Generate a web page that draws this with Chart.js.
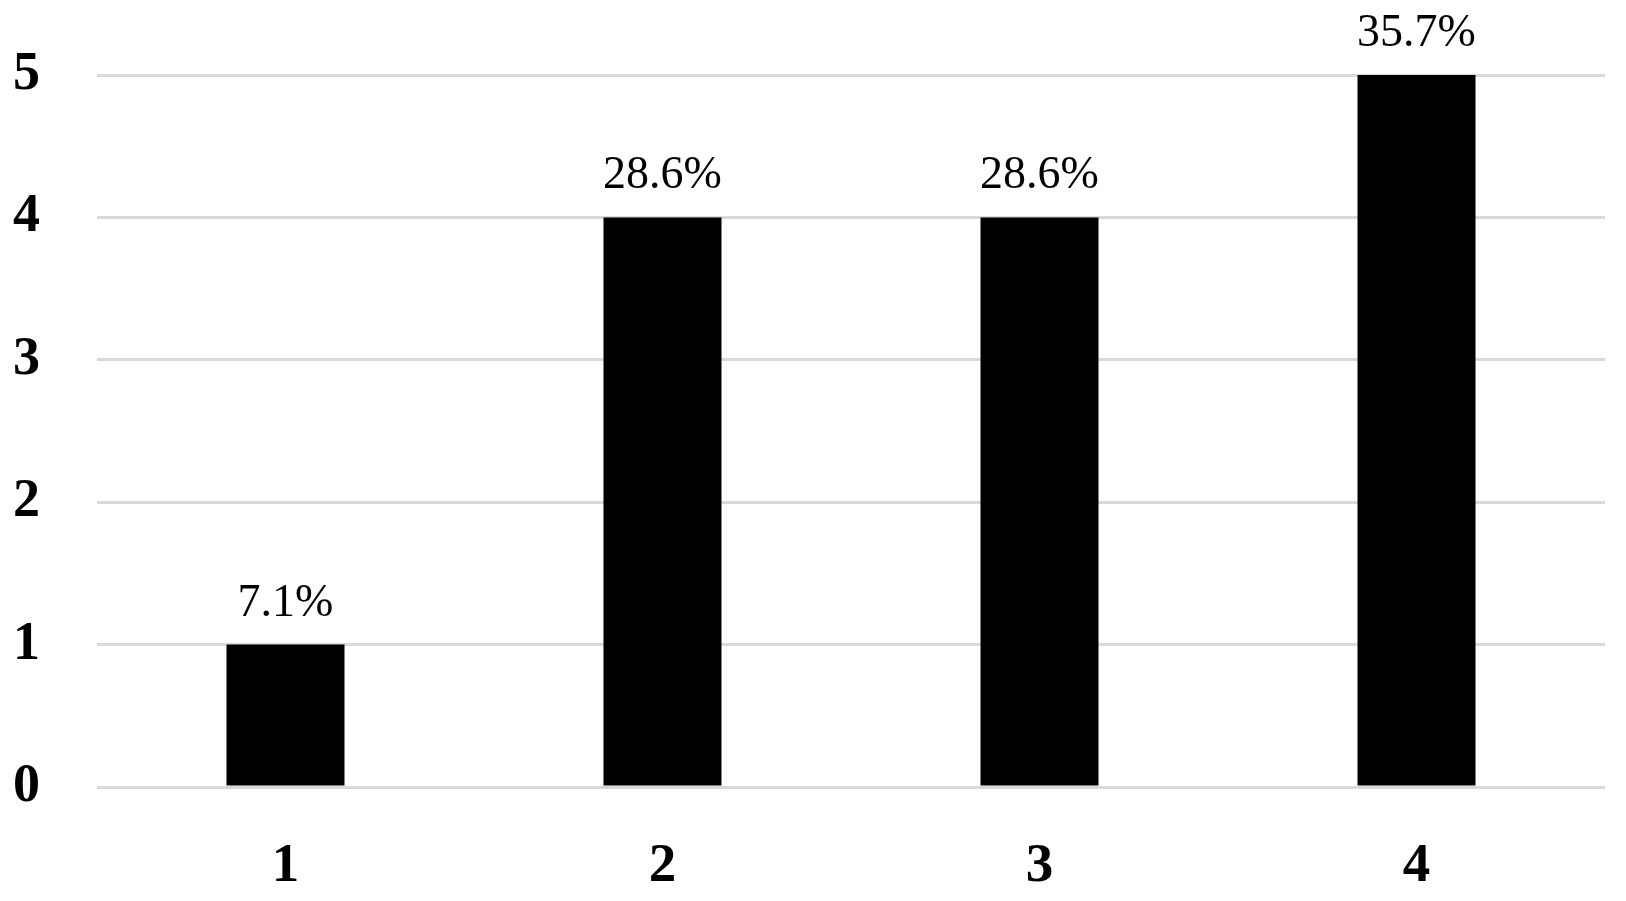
<!DOCTYPE html>
<html>
<head>
<meta charset="utf-8">
<script src="https://cdn.jsdelivr.net/npm/chart.js@4"></script>
<style>
    body { margin: 0; background: #fff; }
    #wrap { width: 1626px; height: 901px; position: relative; }
</style>
</head>
<body>
<div id="wrap"><canvas id="barChart"></canvas></div>
<script>
// Данные графика
const categories = ['1', '2', '3', '4'];
const counts = [1, 4, 4, 5];
const yTicks = [0, 1, 2, 3, 4, 5];

const total = counts.reduce((a, b) => a + b, 0);

// Подписи процентов над столбцами
const percentLabels = {
    id: 'percentLabels',
    afterDatasetsDraw(chart) {
        const ctx = chart.ctx;
        const meta = chart.getDatasetMeta(0);
        ctx.save();
        ctx.font = '46px "Liberation Serif", serif';
        ctx.fillStyle = '#000';
        ctx.textAlign = 'center';
        ctx.textBaseline = 'alphabetic';
        meta.data.forEach((bar, i) => {
            const pct = (counts[i] / total * 100).toFixed(1) + '%';
            ctx.fillText(pct, bar.x, bar.y - 29);
        });
        ctx.restore();
    }
};

new Chart(document.getElementById('barChart'), {
    type: 'bar',
    data: {
        labels: categories,
        datasets: [{
            data: counts,
            backgroundColor: '#000',
            barPercentage: 0.313,
            categoryPercentage: 1
        }]
    },
    options: {
        responsive: true,
        maintainAspectRatio: false,
        animation: false,
        layout: {
            padding: { top: 75, right: 21, left: 0, bottom: 0 }
        },
        plugins: {
            legend: { display: false },
            tooltip: { enabled: false }
        },
        scales: {
            x: {
                grid: { display: false },
                border: { display: false },
                ticks: {
                    color: '#000',
                    padding: 39,
                    font: { family: '"Liberation Serif", serif', size: 55, weight: 'bold' }
                },
                afterFit(scale) { scale.height = 114; }
            },
            y: {
                min: 0,
                max: yTicks[yTicks.length - 1],
                afterBuildTicks(scale) {
                    scale.ticks = yTicks.map(v => ({ value: v }));
                },
                grid: { color: '#d9d9d9', lineWidth: 3, drawTicks: false },
                border: { display: false },
                ticks: {
                    color: '#000',
                    padding: 57,
                    font: { family: '"Liberation Serif", serif', size: 54, weight: 'bold', lineHeight: 0.5 }
                },
                afterFit(scale) { scale.width = 97; }
            }
        }
    },
    plugins: [percentLabels]
});
</script>
</body>
</html>
